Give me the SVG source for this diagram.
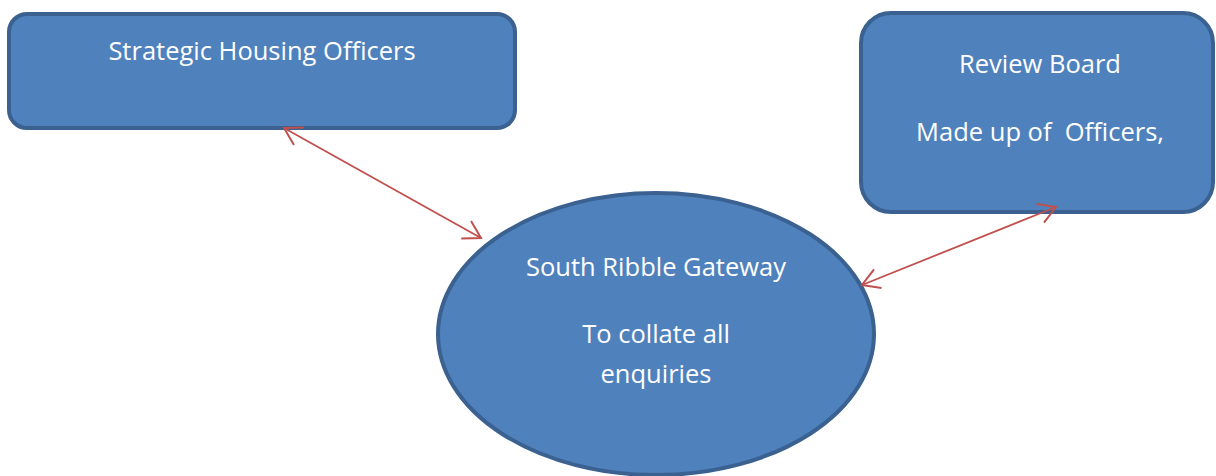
<svg xmlns="http://www.w3.org/2000/svg" width="1216" height="476" viewBox="0 0 1216 476">
<style>
.node{fill:#4f81bd;stroke:#3a6190;stroke-width:4}
.lbl{font-family:"Open Sans","Liberation Sans",sans-serif;font-size:25.5px;fill:#ffffff;text-anchor:middle;white-space:pre}
.conn{stroke:#c0504d;stroke-width:1.8;fill:none;marker-start:url(#ah);marker-end:url(#ah)}
</style>
<defs>
<marker id="ah" markerUnits="userSpaceOnUse" viewBox="-22 -14 26 28" refX="0" refY="0" markerWidth="26" markerHeight="28" orient="auto-start-reverse">
<path d="M-17,-10 L0,0 L-17,10" fill="none" stroke="#c0504d" stroke-width="2"/>
</marker>
</defs>
<g id="node-strategic">
<rect class="node" x="9" y="14" width="506" height="114" rx="18"/>
<text class="lbl" x="262" y="60">Strategic Housing Officers</text>
</g>
<g id="node-review">
<rect class="node" x="861" y="13" width="352" height="199" rx="30"/>
<text class="lbl" x="1040" y="73">Review Board</text>
<text class="lbl" x="1040" y="141" xml:space="preserve">Made up of  Officers,</text>
</g>
<g id="node-gateway">
<ellipse class="node" cx="656" cy="334" rx="218" ry="141"/>
<text class="lbl" x="656" y="276">South Ribble Gateway</text>
<text class="lbl" x="656" y="343">To collate all</text>
<text class="lbl" x="656" y="383">enquiries</text>
</g>
<g id="connectors">
<path class="conn" d="M284,128 L481,238"/>
<path class="conn" d="M862,285 L1056,207"/>
</g>
</svg>
